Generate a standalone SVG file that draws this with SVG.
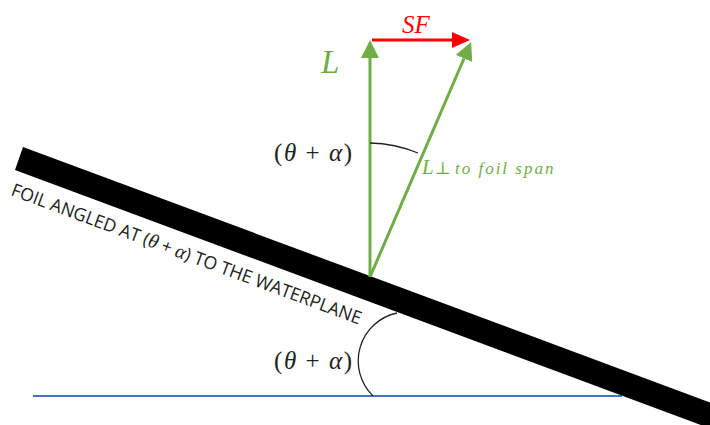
<svg xmlns="http://www.w3.org/2000/svg" width="710" height="425" viewBox="0 0 710 425">
<style>
.math{font-family:"Liberation Serif","DejaVu Serif",serif;fill:#222}
.it{font-style:italic}
.green{fill:#70AD47}
.red{fill:#FF0000}
.arc{fill:none;stroke:#222;stroke-width:1.3}
.ang{font-size:25px}
</style>
<defs>
<marker id="ag" markerUnits="userSpaceOnUse" markerWidth="18" markerHeight="18" refX="0" refY="9" orient="auto">
<path d="M0,0 L18,9 L0,18 z" fill="#70AD47"/>
</marker>
<marker id="ar" markerUnits="userSpaceOnUse" markerWidth="18" markerHeight="18" refX="0" refY="9" orient="auto">
<path d="M0,1 L18,9 L0,17 z" fill="#FF0000"/>
</marker>
</defs>
<g id="waterplane">
<line x1="33" y1="396" x2="622" y2="396" stroke="#4472C4" stroke-width="2"/>
</g>
<g id="foil">
<polygon points="23,147 760,421 752,444 15,170" fill="#000"/>
<text transform="translate(10,195) rotate(20.4)" font-family="'Open Sans','Liberation Sans',sans-serif" font-size="18" fill="#222" textLength="372" lengthAdjust="spacingAndGlyphs">FOIL ANGLED AT (<tspan font-family="'Liberation Serif',serif" font-style="italic" font-size="20">θ</tspan> + <tspan font-family="'Liberation Serif',serif" font-style="italic" font-size="20">α</tspan>) TO THE WATERPLANE</text>
</g>
<g id="connectors">
<line x1="370" y1="277" x2="370" y2="58" stroke="#70AD47" stroke-width="3" marker-end="url(#ag)"/>
<line x1="370" y1="277" x2="464" y2="58.5" stroke="#70AD47" stroke-width="3" marker-end="url(#ag)"/>
<line x1="372" y1="40" x2="452" y2="40" stroke="#FF0000" stroke-width="3" marker-end="url(#ar)"/>
</g>
<g id="angle-top">
<path class="arc" d="M370,143 A133,133 0 0 1 418,153"/>
<text class="math ang" x="274" y="161" textLength="78">(<tspan class="it">θ</tspan> + <tspan class="it">α</tspan>)</text>
</g>
<g id="angle-bottom">
<path class="arc" d="M397,313 A49,49 0 0 0 373,396"/>
<text class="math ang" x="274" y="369" textLength="78">(<tspan class="it">θ</tspan> + <tspan class="it">α</tspan>)</text>
</g>
<g id="label-L">
<text class="math it green" x="321" y="73" style="font-size:33px">L</text>
</g>
<g id="label-SF">
<text class="math it red" x="402" y="33" style="font-size:25px">SF</text>
</g>
<g id="label-Lperp">
<text class="math green" x="422" y="174" style="font-size:21px"><tspan class="it">L</tspan><tspan style="font-size:17px" dx="1">⊥ <tspan class="it" letter-spacing="2">to foil span</tspan></tspan></text>
</g>
</svg>
